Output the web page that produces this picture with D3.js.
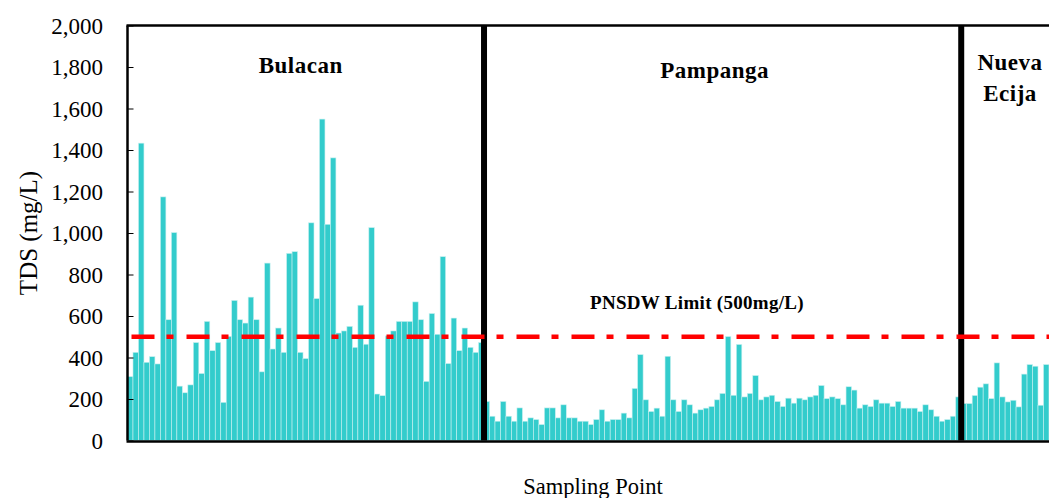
<!DOCTYPE html>
<meta charset="utf-8">
<body style="margin:0">
<script src="https://cdn.jsdelivr.net/npm/d3@7"></script>
<script>

 // TDS readings per sampling point, by province
 var bulacan = [308, 425, 1433, 377, 404, 369, 1174, 582, 1002, 262,
                230, 268, 472, 323, 574, 433, 472, 184, 502, 675,
                582, 566, 691, 582, 331, 855, 441, 542, 425, 902,
                910, 425, 395, 1049, 684, 1549, 1042, 1362, 518, 528,
                550, 449, 652, 464, 1026, 224, 216, 504, 528, 574,
                574, 574, 668, 582, 285, 612, 512, 886, 371, 590,
                433, 542, 449, 425, 472];
 var pampanga = [188, 117, 93, 188, 117, 93, 157, 93, 109, 101,
                 77, 157, 157, 109, 172, 109, 109, 93, 93, 77,
                 101, 148, 93, 101, 101, 132, 109, 251, 414, 196,
                 140, 156, 117, 406, 196, 140, 196, 172, 132, 148,
                 156, 164, 196, 227, 501, 218, 463, 210, 227, 313,
                 196, 210, 218, 188, 164, 204, 180, 204, 196, 210,
                 218, 265, 202, 210, 202, 172, 259, 243, 156, 172,
                 164, 196, 180, 180, 164, 188, 156, 156, 156, 140,
                 172, 148, 117, 93, 101, 117, 210];
 var nuevaEcija = [178, 178, 217, 257, 273, 202, 374, 210, 186, 194,
                   162, 320, 366, 358, 170, 366];

 var provinces = [["Bulacan"], ["Pampanga"], ["Nueva", "Ecija"]];
 var yTicks = [0, 200, 400, 600, 800, 1000, 1200, 1400, 1600, 1800, 2000];
 var limit = 500;

 var width = 1049;
 var height = 498;
 var plotLeft = 127.5, plotTop = 25.5, plotBottom = 440.5;
 var step = 5.485;

 var values = bulacan.concat(pampanga, nuevaEcija);
 var groups = [bulacan.length, pampanga.length, nuevaEcija.length];

 var svg = d3.select('body').append('svg')
             .attr('width', width)
             .attr('height', height)
             .attr('font-family', '"Liberation Serif", "Times New Roman", serif');

 var x = d3.scaleBand()
           .domain(d3.range(values.length))
           .range([plotLeft, plotLeft + values.length * step])
           .padding(0);

 var y = d3.scaleLinear()
           .domain([0, 2000])
           .range([plotBottom, plotTop]);

 // bars
 svg.append('g')
    .selectAll('rect')
    .data(values)
    .enter()
    .append('rect')
    .attr('x', (d, i) => x(i))
    .attr('width', x.bandwidth())
    .attr('y', d => y(d))
    .attr('height', d => y(0) - y(d))
    .attr('fill', '#33CCCC')
    .attr('stroke', '#c8f0f0')
    .attr('stroke-width', 0.6);

 // y axis, ticks pointing inward
 var yAxis = d3.axisRight(y)
               .tickValues(yTicks)
               .tickSize(6)
               .tickFormat('');
 var ya = svg.append('g')
             .attr('transform', 'translate(' + plotLeft + ',0)')
             .call(yAxis);
 ya.select('.domain').remove();
 ya.selectAll('line').attr('stroke', '#000').attr('stroke-width', 1);

 svg.append('g')
    .selectAll('text')
    .data(yTicks)
    .enter()
    .append('text')
    .attr('x', 103)
    .attr('y', d => y(d))
    .attr('dy', '0.35em')
    .attr('text-anchor', 'end')
    .attr('font-size', 23)
    .text(d => d3.format(',')(d));

 // frame
 svg.append('line')
    .attr('x1', plotLeft).attr('x2', plotLeft)
    .attr('y1', plotTop).attr('y2', plotBottom)
    .attr('stroke', '#000').attr('stroke-width', 2.5);
 svg.append('line')
    .attr('x1', plotLeft - 1).attr('x2', width)
    .attr('y1', plotBottom + 1).attr('y2', plotBottom + 1)
    .attr('stroke', '#000').attr('stroke-width', 2.5);
 svg.append('line')
    .attr('x1', plotLeft - 1).attr('x2', width)
    .attr('y1', plotTop).attr('y2', plotTop)
    .attr('stroke', '#000').attr('stroke-width', 2.5);

 // province separators
 var bounds = [groups[0], groups[0] + groups[1]];
 svg.append('g')
    .selectAll('line')
    .data(bounds)
    .enter()
    .append('line')
    .attr('x1', d => x(d))
    .attr('x2', d => x(d))
    .attr('y1', plotTop)
    .attr('y2', plotBottom)
    .attr('stroke', '#000')
    .attr('stroke-width', 6);

 // limit line
 svg.append('line')
    .attr('x1', plotLeft + 4)
    .attr('x2', width)
    .attr('y1', y(limit))
    .attr('y2', y(limit))
    .attr('stroke', '#FF0000')
    .attr('stroke-width', 4.3)
    .attr('stroke-dasharray', '23,12,7,13');

 svg.append('text')
    .attr('x', 697)
    .attr('y', 302)
    .attr('dy', '0.35em')
    .attr('text-anchor', 'middle')
    .attr('font-size', 19)
    .attr('font-weight', 'bold')
    .attr('letter-spacing', 0.3)
    .text('PNSDW Limit (500mg/L)');

 // province labels
 var starts = [0, groups[0], groups[0] + groups[1]];
 var labelPos = [
     {dx: -5, y: 65},
     {dx: -8, y: 70},
     {dx: 0, y: 62}
 ];
 provinces.forEach(function(lines, i) {
     var x0 = x(starts[i]);
     var x1 = i < 2 ? x(starts[i + 1]) : x0 + 2 * (1010 - x0);
     var cx = (x0 + x1) / 2 + labelPos[i].dx;
     var t = svg.append('text')
                .attr('x', cx)
                .attr('y', labelPos[i].y)
                .attr('text-anchor', 'middle')
                .attr('font-size', 23)
                .attr('font-weight', 'bold')
                .attr('letter-spacing', 0.5);
     lines.forEach(function(s, j) {
         t.append('tspan')
          .attr('x', cx)
          .attr('dy', j == 0 ? '0.35em' : '1.35em')
          .text(s);
     });
 });

 // axis titles
 svg.append('text')
    .attr('x', 593)
    .attr('y', 486)
    .attr('dy', '0.35em')
    .attr('text-anchor', 'middle')
    .attr('font-size', 22.5)
    .text('Sampling Point');

 svg.append('text')
    .attr('transform', 'translate(28,233) rotate(-90)')
    .attr('dy', '0.35em')
    .attr('text-anchor', 'middle')
    .attr('font-size', 25)
    .text('TDS (mg/L)');

</script>
